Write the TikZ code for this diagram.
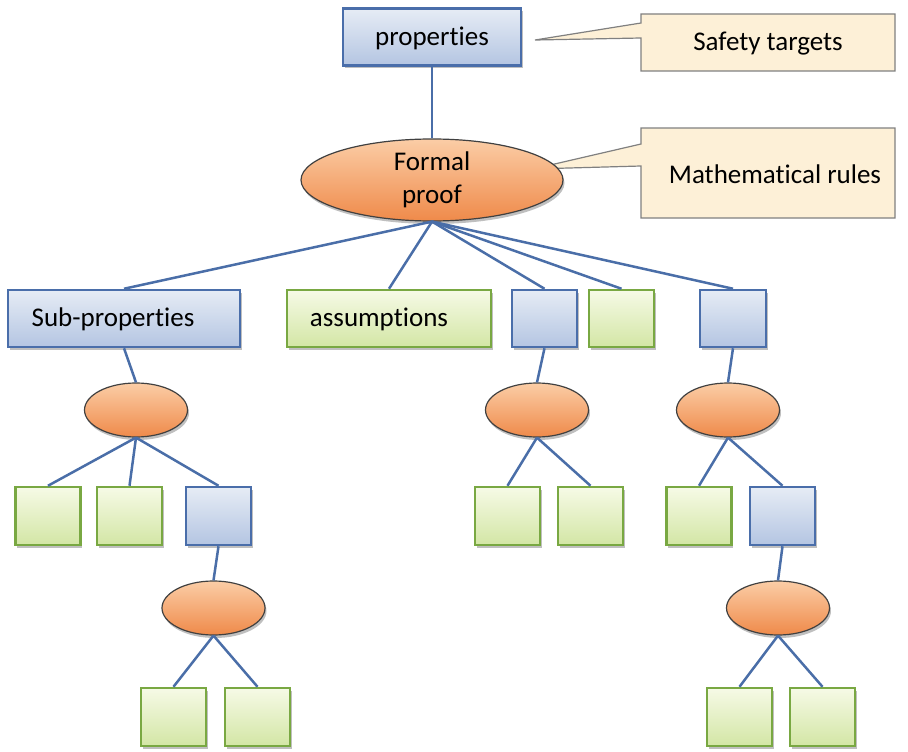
\documentclass[tikz,border=0pt]{standalone}
\usepackage{fontspec}
\setmainfont{Carlito}[Ligatures=NoCommon]
\usetikzlibrary{shapes.geometric,shadows}
\definecolor{lineblue}{HTML}{4A6EA8}
\definecolor{bluebd}{HTML}{4A6EAA}
\definecolor{blueT}{HTML}{E6ECF5}
\definecolor{blueB}{HTML}{B4C5E2}
\definecolor{greenbd}{HTML}{79A842}
\definecolor{greenT}{HTML}{F6FAE6}
\definecolor{greenB}{HTML}{D3E6A5}
\definecolor{oranT}{HTML}{FBCDA6}
\definecolor{oranB}{HTML}{EF8A4A}
\definecolor{callfill}{HTML}{FDF0D7}
\definecolor{callbd}{HTML}{808080}
\begin{document}
\begin{tikzpicture}[x=1pt,y=-1pt,
  shad/.style={drop shadow={shadow xshift=1.5pt,shadow yshift=-3pt,opacity=0.25,fill=black}},
  bbox/.style={shad,draw=bluebd,line width=2.5pt,top color=blueT,bottom color=blueB,inner sep=0pt,minimum height=57pt},
  gbox/.style={shad,draw=greenbd,line width=2.5pt,top color=greenT,bottom color=greenB,inner sep=0pt,minimum height=57pt},
  oval/.style={shad,ellipse,draw=black!75,line width=1.2pt,top color=oranT,bottom color=oranB,inner sep=0pt,minimum width=103pt,minimum height=54pt},
  sq/.style={minimum width=65pt,minimum height=58pt},
  conn/.style={draw=lineblue,line width=2.5pt},
  lbl/.style={font=\fontsize{27}{33}\selectfont,inner sep=0pt,text=black},
  callbox/.style={fill=callfill,draw=callbd,line width=1.2pt}
]
\useasboundingbox (0,0) rectangle (908,752);

% callouts
\draw[callbox] (641,14) -- (895,14) -- (895,71) -- (641,71) -- (641,38) -- (535,40) -- (641,23) -- cycle;
\node[lbl] (safety) at (768,44) {Safety targets};
\draw[callbox] (641,128) -- (895,128) -- (895,218) -- (641,218) -- (641,166) -- (533,169) -- (641,144) -- cycle;
\node[lbl] (math) at (775,174) {Mathematical rules};

% top
\node[bbox,minimum width=178pt] (prop) at (432,37) {};
\node[lbl] at (432,38) (proptxt) {properties};
\node[oval,minimum width=262pt,minimum height=82pt] (formal) at (432,180) {};
\node[lbl,align=center] (formaltxt) at (432,180) {Formal\\proof};

% second row
\node[bbox,minimum width=232pt] (sub) at (124,318.5) {};
\node[lbl] (subtxt) at (113,319) {Sub-properties};
\node[gbox,minimum width=204pt] (assum) at (389,318.5) {};
\node[lbl] (assumtxt) at (379,319) {assumptions};
\node[bbox,minimum width=65pt] (b1) at (544.5,318.5) {};
\node[gbox,minimum width=65pt] (g1) at (621.5,318.5) {};
\node[bbox,minimum width=66pt] (b2) at (733,318.5) {};

% left subtree
\node[oval] (e1) at (136,410) {};
\node[gbox,sq] (g2) at (48,516) {};
\node[gbox,sq] (g3) at (129.5,516) {};
\node[bbox,sq] (b3) at (218.5,516) {};
\node[oval] (e2) at (213.5,608) {};
\node[gbox,sq] (g4) at (173.5,717) {};
\node[gbox,sq] (g5) at (257.5,717) {};

% middle subtree
\node[oval] (e3) at (537,410) {};
\node[gbox,sq] (g6) at (507.5,516) {};
\node[gbox,sq] (g7) at (590.5,516) {};

% right subtree
\node[oval] (e4) at (728,410) {};
\node[gbox,sq] (g8) at (699,516) {};
\node[bbox,sq] (b4) at (782.5,516) {};
\node[oval] (e5) at (778,608) {};
\node[gbox,sq] (g9) at (739.5,717) {};
\node[gbox,sq] (g10) at (822.5,717) {};

% connectors
\draw[conn] (prop.south) -- (formal.north);
\draw[conn] (formal.south) -- (sub.north);
\draw[conn] (formal.south) -- (assum.north);
\draw[conn] (formal.south) -- (b1.north);
\draw[conn] (formal.south) -- (g1.north);
\draw[conn] (formal.south) -- (b2.north);
\draw[conn] (sub.south) -- (e1.north);
\draw[conn] (e1.south) -- (g2.north);
\draw[conn] (e1.south) -- (g3.north);
\draw[conn] (e1.south) -- (b3.north);
\draw[conn] (b3.south) -- (e2.north);
\draw[conn] (e2.south) -- (g4.north);
\draw[conn] (e2.south) -- (g5.north);
\draw[conn] (b1.south) -- (e3.north);
\draw[conn] (e3.south) -- (g6.north);
\draw[conn] (e3.south) -- (g7.north);
\draw[conn] (b2.south) -- (e4.north);
\draw[conn] (e4.south) -- (g8.north);
\draw[conn] (e4.south) -- (b4.north);
\draw[conn] (b4.south) -- (e5.north);
\draw[conn] (e5.south) -- (g9.north);
\draw[conn] (e5.south) -- (g10.north);
\end{tikzpicture}
\end{document}
